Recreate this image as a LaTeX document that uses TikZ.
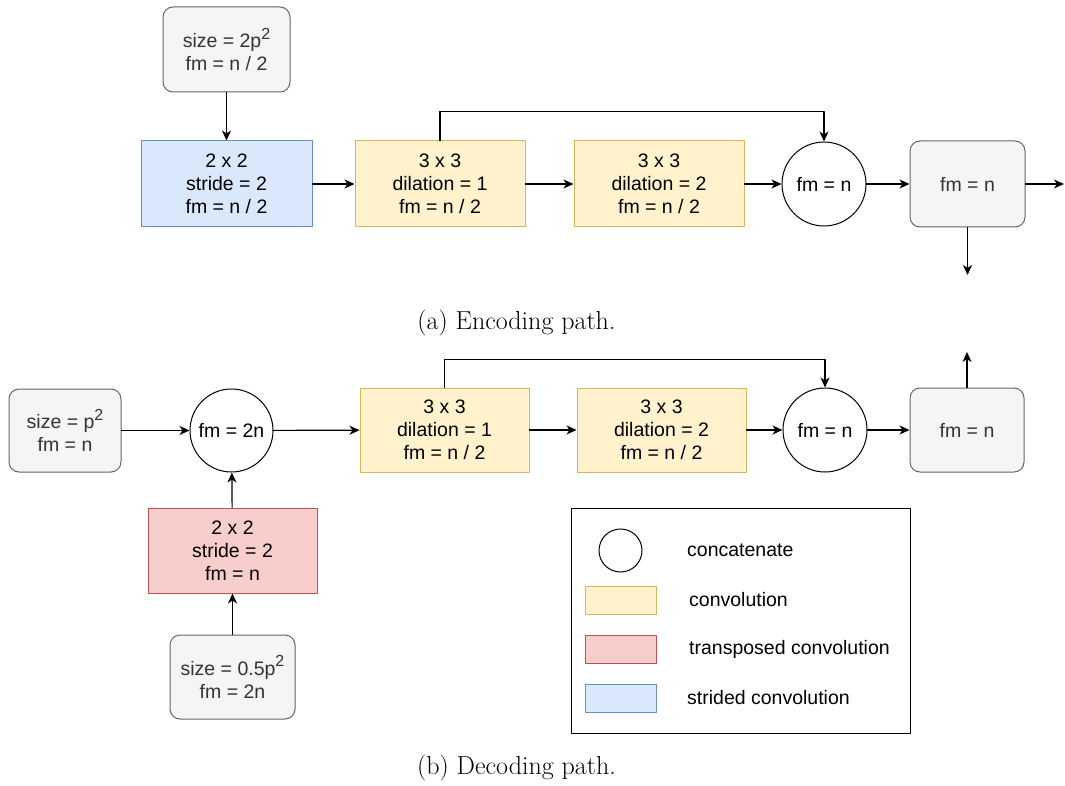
\documentclass[tikz,border=0pt]{standalone}
\usepackage{fontspec}
\newfontfamily\boxfont{Liberation Sans}
\usetikzlibrary{arrows.meta}
\definecolor{greyfill}{HTML}{F5F5F5}
\definecolor{greyline}{HTML}{666666}
\definecolor{greytext}{HTML}{333333}
\definecolor{bluefill}{HTML}{DAE8FC}
\definecolor{blueline}{HTML}{6C8EBF}
\definecolor{yellowfill}{HTML}{FFF2CC}
\definecolor{yellowline}{HTML}{D6B656}
\definecolor{redfill}{HTML}{F8CECC}
\definecolor{redline}{HTML}{B85450}
\newcommand{\sqr}{\raisebox{0.42em}{\fontsize{16}{16}\selectfont 2}}

\begin{document}
\begin{tikzpicture}[line cap=round,line join=round,>={Stealth[length=10pt,width=9pt,inset=3pt]},x=1pt,y=-1pt,
  every node/.style={font=\boxfont\fontsize{19.5}{23}\selectfont,align=center,inner sep=0pt},
  databox/.style={draw=greyline,fill=greyfill,text=greytext,rounded corners=10pt,line width=1pt},
  convbox/.style={draw=yellowline,fill=yellowfill,line width=1pt},
  stridebox/.style={draw=blueline,fill=bluefill,line width=1pt},
  transbox/.style={draw=redline,fill=redfill,line width=1pt},
  catnode/.style={draw,circle,line width=1pt},
  flow/.style={->,line width=1.2pt},
  caption/.style={font=\fontsize{26}{30}\selectfont}]
\useasboundingbox (0,0) rectangle (1065,786);
\node[databox,minimum width=127,minimum height=85] (sizeA) at (226.5,49.5) {size = 2p\sqr\\fm = n / 2};
\node[stridebox,minimum width=171,minimum height=86] (strideconv) at (226.5,184) {2 x 2\\stride = 2\\fm = n / 2};
\node[convbox,minimum width=170,minimum height=86] (convA) at (440,184) {3 x 3\\dilation = 1\\fm = n / 2};
\node[convbox,minimum width=170,minimum height=86] (convB) at (659,184) {3 x 3\\dilation = 2\\fm = n / 2};
\node[catnode,minimum size=84] (catA) at (824,184) {fm = n};
\node[databox,minimum width=115,minimum height=86] (outA) at (967.5,184) {fm = n};
\coordinate (outAright) at (1064,184);
\coordinate (outAdown) at (967.5,275);
\draw[flow] (sizeA) -- (strideconv);
\draw[flow] (strideconv) -- (convA);
\draw[flow] (convA) -- (convB);
\draw[flow] (convB) -- (catA);
\draw[flow] (convA.north) -- ++(0,-29) -| (catA.north);
\draw[flow] (catA) -- (outA);
\draw[flow] (outA) -- (outAright);
\draw[flow] (outA) -- (outAdown);
\node[caption] (capA) at (516.5,323) {(a) Encoding path.};
\node[databox,minimum width=112,minimum height=83] (sizeB) at (65,430.5) {size = p\sqr\\fm = n};
\node[catnode,minimum size=83] (catB) at (231.5,430.5) {fm = 2n};
\node[convbox,minimum width=169,minimum height=84] (convC) at (444.5,430) {3 x 3\\dilation = 1\\fm = n / 2};
\node[convbox,minimum width=169,minimum height=84] (convD) at (661.5,430) {3 x 3\\dilation = 2\\fm = n / 2};
\node[catnode,minimum size=84] (catC) at (825,430) {fm = n};
\node[databox,minimum width=114,minimum height=84] (outB) at (967,430) {fm = n};
\coordinate (outBup) at (967,352);
\node[transbox,minimum width=169,minimum height=85] (transconv) at (232.5,550.5) {2 x 2\\stride = 2\\fm = n};
\node[databox,minimum width=125,minimum height=84] (sizeC) at (232.5,677) {size = 0.5p\sqr\\fm = 2n};
\draw[flow] (sizeB) -- (catB);
\draw[flow] (catB) -- (convC);
\draw[flow] (convC) -- (convD);
\draw[flow] (convD) -- (catC);
\draw[flow] (convC.north) -- ++(0,-28) -| (catC.north);
\draw[flow] (catC) -- (outB);
\draw[flow] (outB) -- (outBup);
\draw[flow] (sizeC) -- (transconv);
\draw[flow] (transconv) -- (catB);
\node[draw,line width=1pt,minimum width=339,minimum height=225] (legend) at (740.5,620.5) {};
\node[catnode,minimum size=43] (keycat) at (620.5,550.5) {};
\node[convbox,minimum width=71,minimum height=28] (keyconv) at (620.5,600) {};
\node[transbox,minimum width=71,minimum height=28] (keytrans) at (620.5,649) {};
\node[stridebox,minimum width=71,minimum height=28] (keystride) at (620.5,698) {};
\node[anchor=west] (keycattext) at (687,550.5) {concatenate};
\node[anchor=west] (keyconvtext) at (689,600) {convolution};
\node[anchor=west] (keytranstext) at (689,649) {transposed convolution};
\node[anchor=west] (keystridetext) at (687,698) {strided convolution};
\node[caption] (capB) at (516.5,768) {(b) Decoding path.};
\end{tikzpicture}
\end{document}
